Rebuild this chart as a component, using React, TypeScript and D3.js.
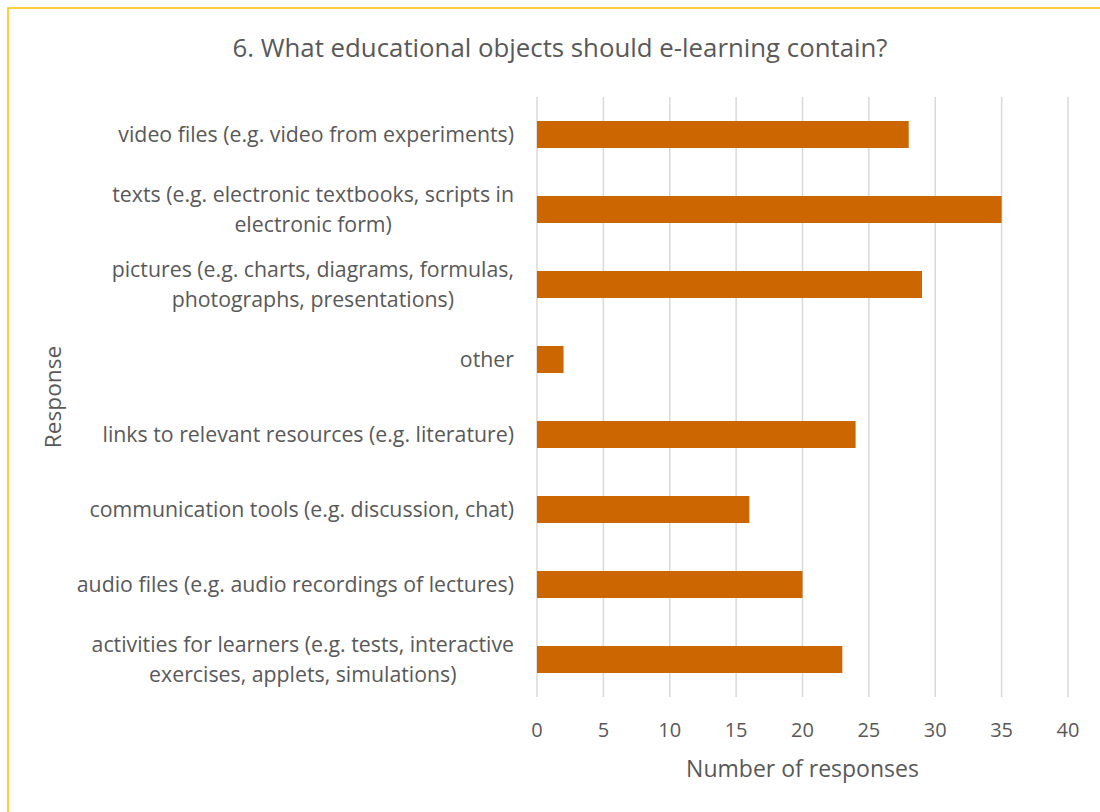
import React from "react";
import * as d3 from "d3";

const categories: string[][] = [
  ["video files (e.g. video from experiments)"],
  ["texts (e.g. electronic textbooks, scripts in", "electronic form)"],
  ["pictures (e.g. charts, diagrams, formulas,", "photographs, presentations)"],
  ["other"],
  ["links to relevant resources (e.g. literature)"],
  ["communication tools (e.g. discussion, chat)"],
  ["audio files (e.g. audio recordings of lectures)"],
  ["activities for learners (e.g. tests, interactive", "exercises, applets, simulations)"],
];
const values: number[] = [28, 35, 29, 2, 24, 16, 20, 23];
const ticks: number[] = [0, 5, 10, 15, 20, 25, 30, 35, 40];
const title = "6. What educational objects should e-learning contain?";
const xTitle = "Number of responses";
const yTitle = "Response";

const W = 1100;
const H = 812;
const left = 537;
const right = 1068;
const top = 97;
const bottom = 697;
const font = "'Open Sans', sans-serif";
const textColor = "#595959";
const labelSize = 21.3;
const labelRight = 514;

function measure(text: string, size: number): number {
  if (typeof document === "undefined") return text.length * size * 0.5;
  const c = document.createElement("canvas");
  const ctx = c.getContext("2d");
  if (!ctx) return text.length * size * 0.5;
  ctx.font = `${size}px 'Open Sans', sans-serif`;
  return ctx.measureText(text).width;
}

export default function App() {
  const x = d3.scaleLinear().domain([0, 40]).range([left, right]);
  const y = d3
    .scaleBand<number>()
    .domain(d3.range(categories.length))
    .range([top, bottom])
    .paddingInner(0.64)
    .paddingOuter(0.32);
  return (
    <svg
      width={W}
      height={H}
      style={{ position: "fixed", left: 0, top: 0, display: "block", background: "#fff" }}
    >
      <rect x={8} y={8} width={W + 20} height={H + 20} fill="#fff" stroke="#FFC000" strokeWidth={1.5} />
      <text x={560} y={57} textAnchor="middle" fontFamily={font} fontSize={25.8} fill={textColor}>
        {title}
      </text>
      {ticks.map((t) => (
        <g key={t}>
          <line x1={x(t)} x2={x(t)} y1={top} y2={bottom} stroke="#D9D9D9" strokeWidth={1.5} />
          <text x={x(t)} y={737} textAnchor="middle" fontFamily={font} fontSize={20} fill={textColor}>
            {t}
          </text>
        </g>
      ))}
      {values.map((v, i) => (
        <rect
          key={i}
          x={x(0)}
          y={y(i)!}
          width={x(v) - x(0)}
          height={y.bandwidth()}
          fill="#CC6600"
        />
      ))}
      {categories.map((lines, i) => {
        const cy = y(i)! + y.bandwidth() / 2;
        const lh = 30;
        const start = cy - ((lines.length - 1) * lh) / 2;
        const maxW = Math.max(...lines.map((l) => measure(l, labelSize)));
        const cx = labelRight - maxW / 2;
        return (
          <text key={i} textAnchor="middle" fontFamily={font} fontSize={labelSize} fill={textColor}>
            {lines.map((l, j) => (
              <tspan key={j} x={cx} y={start + j * lh} dy="0.35em">
                {l}
              </tspan>
            ))}
          </text>
        );
      })}
      <text
        x={(left + right) / 2}
        y={777}
        textAnchor="middle"
        fontFamily={font}
        fontSize={23}
        fill={textColor}
      >
        {xTitle}
      </text>
      <text
        transform={`translate(61, ${(top + bottom) / 2}) rotate(-90)`}
        textAnchor="middle"
        fontFamily={font}
        fontSize={22.7}
        fill={textColor}
      >
        {yTitle}
      </text>
    </svg>
  );
}
